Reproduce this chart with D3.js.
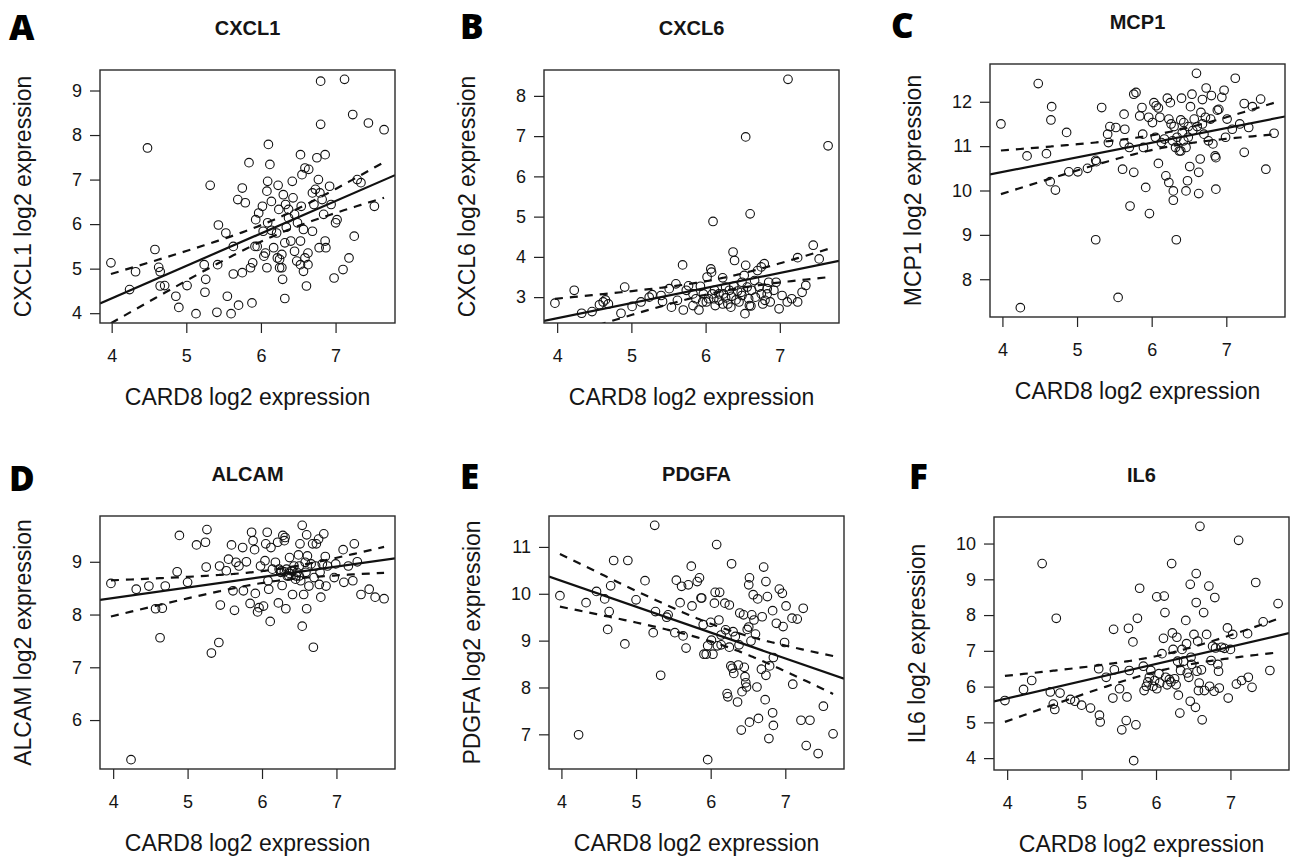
<!DOCTYPE html>
<html>
<head>
<meta charset="utf-8">
<script src="https://cdn.jsdelivr.net/npm/d3@7/dist/d3.min.js"></script>
<style>
    body { margin: 0; background: #fff; }
    text { font-family: "Liberation Sans", Arial, sans-serif; fill: #151515; }
    .tick text { font-size: 18px; }
    .tick line { stroke: #222; stroke-width: 1.2; }
    .axisLabel { font-size: 23px; }
    .panelTitle { font-size: 20px; font-weight: bold; }
    .panelLetter { font-family: "Open Sans", sans-serif; font-size: 35px; font-weight: 800; fill: #000; }
    .frame { fill: none; stroke: #2a2a2a; stroke-width: 1.4; }
    .dot { fill: none; stroke: #111; stroke-width: 1.1; }
    .fitLine { fill: none; stroke: #111; stroke-width: 2.2; }
    .bandLine { fill: none; stroke: #111; stroke-width: 2.2; stroke-dasharray: 8,7; }
</style>
</head>
<body>
<svg id="figure" width="1295" height="858"></svg>
<script>

// CARD8 (x) vs gene (y) log2 expression
let cxcl1 = [[3.99,5.13],[4.24,4.53],[4.32,4.93],[4.48,7.71],[4.58,5.43],[4.63,5.03],[4.65,4.93],[4.65,4.61],[4.71,4.62],[4.86,4.38],[4.90,4.13],[5.01,4.62],[5.13,3.99],[5.24,5.09],[5.26,4.76],[5.25,4.47],[5.32,6.87],[5.43,5.98],[5.42,5.09],[5.41,4.02],[5.53,5.80],[5.55,4.38],[5.63,5.50],[5.60,3.99],[5.63,4.88],[5.69,6.55],[5.75,6.81],[5.79,6.48],[5.70,4.18],[5.75,4.91],[5.84,7.38],[5.88,4.23],[5.86,5.02],[5.89,5.13],[5.92,5.50],[5.93,6.10],[5.97,6.25],[6.02,6.40],[6.03,5.84],[6.04,5.28],[6.08,5.02],[6.08,6.74],[6.09,6.96],[6.10,7.79],[6.12,7.34],[6.06,5.35],[6.09,6.03],[6.14,5.86],[6.17,5.47],[6.21,5.80],[6.22,5.24],[6.23,6.87],[6.24,6.33],[6.25,5.21],[6.28,5.32],[6.28,5.02],[6.29,4.76],[6.30,6.66],[6.32,4.33],[6.32,5.58],[6.33,6.44],[6.37,6.14],[6.40,5.62],[6.42,6.96],[6.43,6.59],[6.45,6.22],[6.45,5.39],[6.48,5.17],[6.49,6.03],[6.53,7.56],[6.53,5.62],[6.54,6.40],[6.53,5.09],[6.55,7.11],[6.57,4.94],[6.59,7.26],[6.57,5.88],[6.61,4.61],[6.64,7.23],[6.63,5.09],[6.63,5.35],[6.69,5.84],[6.71,6.44],[6.75,7.49],[6.77,7.00],[6.78,5.47],[6.79,6.70],[6.80,9.21],[6.80,8.24],[6.82,6.55],[6.84,6.22],[6.86,7.56],[6.86,5.62],[6.87,5.47],[6.92,6.85],[6.94,6.44],[6.98,4.79],[7.00,6.03],[7.02,6.10],[7.10,4.98],[7.12,9.25],[7.18,5.24],[7.23,8.46],[7.25,5.73],[7.29,7.00],[7.34,6.93],[7.44,8.27],[7.52,6.40],[7.65,8.12],[6.59,5.24],[6.73,6.78],[6.69,6.70],[6.37,6.33],[6.34,5.93],[6.14,6.51],[6.25,5.02],[5.95,5.50]];

let cxcl6 = [[3.97,2.85],[4.23,3.17],[4.33,2.60],[4.47,2.64],[4.57,2.81],[4.62,2.88],[4.65,2.93],[4.69,2.83],[4.86,2.60],[4.91,3.25],[5.01,2.77],[5.13,2.88],[5.24,3.00],[5.28,3.06],[5.40,3.04],[5.42,2.89],[5.51,3.21],[5.54,2.75],[5.60,3.33],[5.62,2.92],[5.69,3.80],[5.70,2.68],[5.74,3.17],[5.77,3.28],[5.83,2.79],[5.87,2.96],[5.91,2.68],[5.93,3.27],[5.97,3.08],[6.01,2.88],[6.02,3.50],[6.07,3.70],[6.08,3.62],[6.10,4.88],[6.11,2.96],[6.12,3.17],[6.13,2.79],[6.18,2.92],[6.23,3.48],[6.24,3.08],[6.27,2.98],[6.30,2.83],[6.32,3.17],[6.34,2.75],[6.35,3.02],[6.37,4.12],[6.38,3.27],[6.39,3.91],[6.41,2.93],[6.43,3.15],[6.45,2.88],[6.49,3.37],[6.49,3.04],[6.52,3.54],[6.53,2.59],[6.54,3.79],[6.54,6.98],[6.56,3.25],[6.58,2.96],[6.60,5.07],[6.61,2.78],[6.62,3.17],[6.66,3.41],[6.67,3.00],[6.70,3.66],[6.72,3.25],[6.75,3.75],[6.75,3.08],[6.79,3.83],[6.80,2.92],[6.83,3.21],[6.85,3.37],[6.87,2.88],[6.92,3.17],[6.95,3.37],[6.99,2.71],[7.03,3.04],[7.10,2.88],[7.11,8.41],[7.16,2.96],[7.24,2.88],[7.24,3.98],[7.30,3.12],[7.35,3.29],[7.45,4.29],[7.53,3.95],[7.65,6.76],[5.96,2.88],[6.04,2.96],[6.18,3.08],[6.27,3.25],[6.48,3.12],[6.59,2.79],[6.77,2.83],[6.83,3.08],[6.23,2.83],[6.09,3.08],[5.83,3.08]];

let mcp1 = [[3.98,11.50],[4.24,7.36],[4.33,10.78],[4.48,12.41],[4.59,10.83],[4.65,11.59],[4.66,11.89],[4.64,10.20],[4.71,10.01],[4.86,11.31],[4.89,10.42],[5.01,10.42],[5.14,10.50],[5.25,10.68],[5.26,10.65],[5.25,8.89],[5.33,11.87],[5.41,11.27],[5.44,11.44],[5.42,11.08],[5.52,11.42],[5.55,7.59],[5.61,10.48],[5.63,11.72],[5.64,11.38],[5.63,11.06],[5.70,10.97],[5.71,9.65],[5.76,10.41],[5.76,12.17],[5.79,12.21],[5.84,11.68],[5.87,11.87],[5.88,11.27],[5.89,10.97],[5.92,10.07],[5.96,11.65],[5.97,9.48],[6.01,11.53],[6.03,11.98],[6.05,11.20],[6.06,11.91],[6.09,11.86],[6.09,10.61],[6.11,11.65],[6.13,11.08],[6.17,11.16],[6.19,10.33],[6.21,12.08],[6.23,11.61],[6.23,10.18],[6.25,11.98],[6.26,11.50],[6.28,11.12],[6.29,9.99],[6.29,9.78],[6.30,11.44],[6.32,10.97],[6.33,8.89],[6.34,11.20],[6.37,10.89],[6.39,11.59],[6.40,12.08],[6.41,11.31],[6.43,11.53],[6.46,10.97],[6.46,9.99],[6.48,10.22],[6.49,11.20],[6.51,10.54],[6.52,11.89],[6.54,12.17],[6.55,11.35],[6.57,11.61],[6.60,12.64],[6.61,11.44],[6.63,10.41],[6.63,9.93],[6.65,10.71],[6.66,11.76],[6.68,12.05],[6.70,11.27],[6.73,12.31],[6.76,11.12],[6.79,11.61],[6.80,12.14],[6.82,11.05],[6.85,10.78],[6.86,10.03],[6.88,11.81],[6.90,11.83],[6.94,12.10],[6.97,12.26],[6.99,11.20],[7.01,11.61],[7.08,11.38],[7.12,12.53],[7.18,11.50],[7.24,10.86],[7.24,11.96],[7.30,11.42],[7.35,11.89],[7.46,12.06],[7.53,10.48],[7.64,11.29],[6.39,10.89],[6.43,11.12],[6.49,11.44],[6.68,11.50],[6.72,11.65],[6.86,10.74]];

let alcam = [[3.97,8.59],[4.24,5.25],[4.31,8.48],[4.48,8.54],[4.57,8.11],[4.63,7.56],[4.66,8.12],[4.70,8.54],[4.86,8.81],[4.89,9.50],[5.00,8.61],[5.12,9.32],[5.24,9.37],[5.26,9.61],[5.25,8.90],[5.32,7.27],[5.42,7.47],[5.43,8.92],[5.44,8.18],[5.52,8.83],[5.55,9.05],[5.59,9.32],[5.61,8.45],[5.63,8.08],[5.65,8.99],[5.69,8.92],[5.74,9.27],[5.75,8.45],[5.79,9.00],[5.84,8.21],[5.86,9.56],[5.88,9.40],[5.90,9.23],[5.91,8.40],[5.94,8.05],[5.96,8.13],[5.98,8.92],[6.02,8.16],[6.04,9.02],[6.05,9.34],[6.07,9.56],[6.08,8.64],[6.09,8.48],[6.11,7.87],[6.12,9.27],[6.14,8.86],[6.18,8.99],[6.21,9.37],[6.22,8.22],[6.25,8.80],[6.27,8.55],[6.28,9.50],[6.30,9.40],[6.31,9.46],[6.32,8.11],[6.33,8.86],[6.36,8.73],[6.37,9.08],[6.39,8.83],[6.41,8.38],[6.43,8.92],[6.45,8.67],[6.47,8.80],[6.49,9.13],[6.50,8.73],[6.51,9.34],[6.52,8.64],[6.54,7.78],[6.54,9.69],[6.56,8.38],[6.58,8.99],[6.60,9.51],[6.60,8.11],[6.61,9.11],[6.63,8.54],[6.66,8.96],[6.68,9.34],[6.69,7.38],[6.70,8.70],[6.73,9.34],[6.76,9.43],[6.77,8.57],[6.78,8.80],[6.79,8.33],[6.81,8.96],[6.83,9.53],[6.85,9.10],[6.86,8.54],[6.88,8.92],[6.97,8.70],[6.99,8.96],[7.09,9.23],[7.10,8.61],[7.16,8.92],[7.22,8.64],[7.24,9.34],[7.28,9.00],[7.33,8.38],[7.44,8.48],[7.52,8.33],[7.64,8.30],[6.23,8.86],[6.30,8.81],[6.37,8.78],[6.41,8.83],[6.46,8.73],[6.34,8.73],[6.26,8.83],[6.59,8.80],[6.50,8.92],[6.72,8.92]];

let pdgfa = [[3.98,9.96],[4.23,6.99],[4.33,9.81],[4.47,10.05],[4.58,9.89],[4.62,9.24],[4.64,9.62],[4.66,10.17],[4.70,10.71],[4.85,8.93],[4.89,10.71],[5.00,9.87],[5.12,10.28],[5.23,9.17],[5.25,11.46],[5.26,9.62],[5.33,8.26],[5.41,9.50],[5.43,9.55],[5.52,9.17],[5.54,10.29],[5.59,9.81],[5.61,10.16],[5.63,9.10],[5.67,8.84],[5.70,10.19],[5.74,10.59],[5.75,9.74],[5.82,10.26],[5.85,10.34],[5.87,9.91],[5.88,9.91],[5.90,9.34],[5.91,8.71],[5.94,8.71],[5.96,8.89],[5.96,6.46],[6.00,9.39],[6.01,9.01],[6.03,8.71],[6.05,9.80],[6.06,10.03],[6.08,11.05],[6.09,8.89],[6.11,9.44],[6.12,10.03],[6.14,9.12],[6.19,9.80],[6.20,9.23],[6.22,7.87],[6.23,7.80],[6.25,9.76],[6.25,8.86],[6.27,8.46],[6.28,10.64],[6.29,8.41],[6.30,9.19],[6.31,8.30],[6.33,9.09],[6.36,7.69],[6.38,8.91],[6.39,9.59],[6.41,7.09],[6.42,7.91],[6.44,9.55],[6.45,8.43],[6.46,8.23],[6.47,8.10],[6.48,8.01],[6.49,9.24],[6.51,10.19],[6.52,10.34],[6.52,7.26],[6.54,8.99],[6.55,9.55],[6.57,9.98],[6.58,9.44],[6.60,9.14],[6.62,8.01],[6.63,9.89],[6.64,7.34],[6.68,8.39],[6.69,9.51],[6.71,10.57],[6.73,7.74],[6.74,10.26],[6.74,8.26],[6.76,9.94],[6.78,6.91],[6.79,8.46],[6.83,9.64],[6.83,7.46],[6.84,8.64],[6.84,7.19],[6.88,9.37],[6.92,10.10],[6.96,10.01],[6.97,9.30],[6.99,8.96],[7.01,9.74],[7.09,9.48],[7.10,8.07],[7.16,9.46],[7.21,7.30],[7.24,9.69],[7.28,6.76],[7.33,7.30],[7.44,6.59],[7.51,7.60],[7.64,7.01],[6.37,8.48],[6.51,9.29],[6.14,8.91]];

let il6 = [[3.97,5.61],[4.22,5.92],[4.33,6.17],[4.47,9.44],[4.58,5.85],[4.62,5.51],[4.64,5.36],[4.66,7.91],[4.71,5.82],[4.85,5.64],[4.91,5.59],[5.00,5.48],[5.12,5.40],[5.23,6.50],[5.24,5.20],[5.25,5.01],[5.33,6.26],[5.42,5.68],[5.44,6.47],[5.43,7.60],[5.51,5.94],[5.54,4.79],[5.60,5.05],[5.61,5.71],[5.63,7.63],[5.64,6.45],[5.69,7.25],[5.70,3.93],[5.73,4.93],[5.75,7.91],[5.78,8.75],[5.83,6.57],[5.84,5.89],[5.87,6.01],[5.89,6.13],[5.91,6.26],[5.93,6.45],[5.96,6.01],[5.98,6.17],[6.01,8.51],[6.01,5.94],[6.04,6.36],[6.05,6.10],[6.08,6.92],[6.10,7.35],[6.11,8.53],[6.12,8.07],[6.13,6.26],[6.15,6.05],[6.18,6.20],[6.20,6.13],[6.21,9.44],[6.22,7.50],[6.23,7.04],[6.25,6.22],[6.27,6.05],[6.28,7.38],[6.29,6.71],[6.30,5.76],[6.32,5.26],[6.33,6.45],[6.35,7.04],[6.37,6.71],[6.40,7.85],[6.41,7.20],[6.42,6.38],[6.44,6.26],[6.46,8.86],[6.46,5.59],[6.47,6.82],[6.48,6.62],[6.51,7.46],[6.53,5.42],[6.54,9.16],[6.54,8.35],[6.55,6.43],[6.56,7.27],[6.57,5.89],[6.58,6.10],[6.59,10.48],[6.61,6.47],[6.62,5.07],[6.64,8.07],[6.65,5.89],[6.68,7.46],[6.71,8.81],[6.72,6.01],[6.74,6.73],[6.76,7.13],[6.78,5.87],[6.79,8.49],[6.80,7.08],[6.83,6.62],[6.84,6.43],[6.85,5.96],[6.88,7.10],[6.92,7.07],[6.96,7.64],[6.97,5.68],[7.00,7.04],[7.03,7.46],[7.08,6.07],[7.11,10.09],[7.15,6.17],[7.23,7.48],[7.24,6.26],[7.29,5.98],[7.34,8.91],[7.44,7.81],[7.53,6.45],[7.64,8.32]];

// tick labels
let xTicks = [4, 5, 6, 7];
let cxcl1Ticks = [4, 5, 6, 7, 8, 9];
let cxcl6Ticks = [3, 4, 5, 6, 7, 8];
let mcp1Ticks = [8, 9, 10, 11, 12];
let alcamTicks = [6, 7, 8, 9];
let pdgfaTicks = [7, 8, 9, 10, 11];
let il6Ticks = [4, 5, 6, 7, 8, 9, 10];

let geneNames = ["CXCL1", "CXCL6", "MCP1", "ALCAM", "PDGFA", "IL6"];
let panelLetters = ["A", "B", "C", "D", "E", "F"];
let xTitle = "CARD8 log2 expression";

// two-sided 95% t quantile for the confidence band
const tCrit = 1.98;


/* * * * * * * * * * * * * *
*    class ScatterPanel    *
* * * * * * * * * * * * * */

class ScatterPanel {

    constructor(svg, panel) {
        this.svg = svg;
        this.panel = panel;
        this.data = panel.data;

        this.initVis();
    }

    initVis() {
        let vis = this;

        vis.width = 295;
        vis.height = 253;

        vis.g = vis.svg.append("g")
            .attr("transform", `translate(${vis.panel.left},${vis.panel.top})`);

        // scales, padded 4% like base R
        let xExt = d3.extent(vis.data, d => d[0]);
        let yExt = d3.extent(vis.data, d => d[1]);
        let xPad = (xExt[1] - xExt[0]) * 0.04;
        let yPad = (yExt[1] - yExt[0]) * 0.04;

        vis.x = d3.scaleLinear()
            .domain([xExt[0] - xPad, xExt[1] + xPad])
            .range([0, vis.width]);
        vis.y = d3.scaleLinear()
            .domain([yExt[0] - yPad, yExt[1] + yPad])
            .range([vis.height, 0]);

        // clip to the plot region
        vis.clipId = "clip-" + vis.panel.letter;
        vis.g.append("clipPath")
            .attr("id", vis.clipId)
            .append("rect")
            .attr("width", vis.width)
            .attr("height", vis.height);

        // axes
        vis.xAxis = vis.g.append("g")
            .attr("class", "axis axis--x")
            .attr("transform", `translate(0,${vis.height})`);
        vis.yAxis = vis.g.append("g")
            .attr("class", "axis axis--y");

        // labels
        vis.g.append("text")
            .attr("class", "axisLabel")
            .attr("x", vis.width / 2)
            .attr("y", vis.height + 82)
            .attr("text-anchor", "middle")
            .text(xTitle);

        vis.g.append("text")
            .attr("class", "axisLabel")
            .attr("transform", "rotate(-90)")
            .attr("x", -vis.height / 2)
            .attr("y", -69)
            .attr("text-anchor", "middle")
            .text(vis.panel.gene + " log2 expression");

        vis.g.append("text")
            .attr("class", "panelTitle")
            .attr("x", vis.width / 2)
            .attr("y", -35)
            .attr("text-anchor", "middle")
            .text(vis.panel.gene);

        vis.g.append("text")
            .attr("class", "panelLetter")
            .attr("x", vis.panel.letterX - vis.panel.left)
            .attr("y", vis.panel.letterY - vis.panel.top)
            .text(vis.panel.letter);

        vis.dotGroup = vis.g.append("g").attr("class", "dots");
        vis.lineGroup = vis.g.append("g")
            .attr("class", "lines")
            .attr("clip-path", `url(#${vis.clipId})`);

        vis.g.append("rect")
            .attr("class", "frame")
            .attr("width", vis.width)
            .attr("height", vis.height);

        vis.wrangleData();
    }

    wrangleData() {
        let vis = this;

        // least squares fit and 95% confidence band of the mean
        let n = vis.data.length;
        let mx = d3.mean(vis.data, d => d[0]);
        let my = d3.mean(vis.data, d => d[1]);
        let sxx = d3.sum(vis.data, d => (d[0] - mx) ** 2);
        let sxy = d3.sum(vis.data, d => (d[0] - mx) * (d[1] - my));

        vis.slope = sxy / sxx;
        vis.intercept = my - vis.slope * mx;

        let sse = d3.sum(vis.data, d => (d[1] - vis.intercept - vis.slope * d[0]) ** 2);
        let s = Math.sqrt(sse / (n - 2));

        vis.band = vis.data.map(d => d[0]).sort(d3.ascending).map(x => {
            let fit = vis.intercept + vis.slope * x;
            let hw = tCrit * s * Math.sqrt(1 / n + (x - mx) ** 2 / sxx);
            return {x: x, lower: fit - hw, upper: fit + hw};
        });

        vis.updateVis();
    }

    updateVis() {
        let vis = this;

        // draw x & y axis
        vis.xAxis.call(d3.axisBottom(vis.x)
            .tickValues(xTicks).tickFormat(d3.format("d"))
            .tickSize(10).tickSizeOuter(0).tickPadding(16));
        vis.yAxis.call(d3.axisLeft(vis.y)
            .tickValues(vis.panel.yTicks).tickFormat(d3.format("d"))
            .tickSize(10).tickSizeOuter(0).tickPadding(8));
        vis.g.selectAll(".axis .domain").remove();

        // points
        vis.dotGroup.selectAll("circle")
            .data(vis.data)
            .join("circle")
            .attr("class", "dot")
            .attr("cx", d => vis.x(d[0]))
            .attr("cy", d => vis.y(d[1]))
            .attr("r", 4.3);

        // fitted line across the plot
        let xd = vis.x.domain();
        vis.lineGroup.append("line")
            .attr("class", "fitLine")
            .attr("x1", vis.x(xd[0]))
            .attr("y1", vis.y(vis.intercept + vis.slope * xd[0]))
            .attr("x2", vis.x(xd[1]))
            .attr("y2", vis.y(vis.intercept + vis.slope * xd[1]));

        // dashed confidence band
        ["upper", "lower"].forEach(key => {
            vis.lineGroup.append("path")
                .datum(vis.band)
                .attr("class", "bandLine")
                .attr("d", d3.line().x(d => vis.x(d.x)).y(d => vis.y(d[key])));
        });
    }
}

let svg = d3.select("#figure");

let panels = [
    {data: cxcl1, yTicks: cxcl1Ticks, left: 100, top: 70, letterX: 9, letterY: 40},
    {data: cxcl6, yTicks: cxcl6Ticks, left: 544, top: 70, letterX: 460, letterY: 39},
    {data: mcp1, yTicks: mcp1Ticks, left: 990, top: 64, letterX: 891, letterY: 38},
    {data: alcam, yTicks: alcamTicks, left: 100, top: 516, letterX: 9, letterY: 491},
    {data: pdgfa, yTicks: pdgfaTicks, left: 549, top: 516, letterX: 460, letterY: 489},
    {data: il6, yTicks: il6Ticks, left: 994, top: 517, letterX: 909, letterY: 489}
];

panels.forEach((p, i) => {
    p.gene = geneNames[i];
    p.letter = panelLetters[i];
    new ScatterPanel(svg, p);
});

</script>
</body>
</html>
